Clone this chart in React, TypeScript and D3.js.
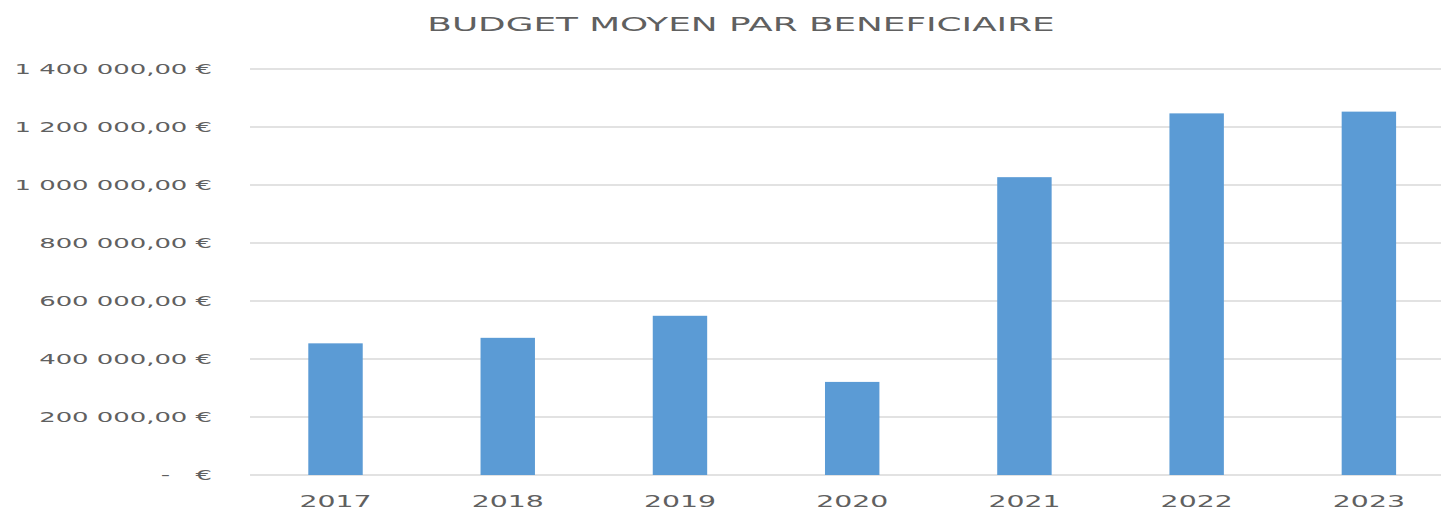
import React from "react";
import * as d3 from "d3";

const categories = ["2017", "2018", "2019", "2020", "2021", "2022", "2023"];
const values = [454000, 473000, 549000, 321000, 1027000, 1247000, 1253000];
const yTicks = [0, 200000, 400000, 600000, 800000, 1000000, 1200000, 1400000];
const title = "BUDGET MOYEN PAR BENEFICIAIRE";

const W = 1441;
const H = 511;
const FONT = "'DejaVu Sans', sans-serif";
const TEXT = "#606060";
const GRID = "#D9D9D9";
const BAR = "#5B9BD5";

function fmt(v: number): string {
  const s = d3.format(",.2f")(v);
  const [i, d] = s.split(".");
  return i.replace(/,/g, " ") + "," + d + " €";
}

export default function App() {
  const x = d3
    .scaleBand<string>()
    .domain(categories)
    .range([249.4, 1455])
    .paddingInner(0.684)
    .paddingOuter(0.342);
  const y = d3.scaleLinear().domain([0, 1400000]).range([475, 69]);

  return (
    <svg
      width={W}
      height={H}
      style={{ position: "absolute", left: 0, top: 0, background: "#fff" }}
    >
      <rect x={0} y={0} width={W} height={H} fill="#fff" />
      <text
        transform={`translate(741,31) scale(1.79,1)`}
        textAnchor="middle"
        fontFamily={FONT}
        fontSize={20}
        fill={TEXT}
      >
        {title}
      </text>
      {yTicks.map((t) => (
        <line key={"g" + t} x1={250} x2={W} y1={y(t)} y2={y(t)} stroke={GRID} strokeWidth={1.5} />
      ))}
      {yTicks.map((t) =>
        t === 0 ? (
          <g key={"l" + t} fontFamily={FONT} fontSize={14} fill={TEXT}>
            <text transform={`translate(170,${y(t)}) scale(1.85,1)`} textAnchor="end" dy="0.35em">
              -
            </text>
            <text transform={`translate(212,${y(t)}) scale(1.85,1)`} textAnchor="end" dy="0.35em">
              €
            </text>
          </g>
        ) : (
          <text
            key={"l" + t}
            transform={`translate(212,${y(t)}) scale(1.85,1)`}
            textAnchor="end"
            dy="0.35em"
            fontFamily={FONT}
            fontSize={14}
            fill={TEXT}
          >
            {fmt(t)}
          </text>
        )
      )}
      {categories.map((c, i) => (
        <rect
          key={"b" + c}
          x={x(c)!}
          y={y(values[i])}
          width={x.bandwidth()}
          height={y(0) - y(values[i])}
          fill={BAR}
        />
      ))}
      {categories.map((c) => (
        <text
          key={"x" + c}
          transform={`translate(${x(c)! + x.bandwidth() / 2},507) scale(1.89,1)`}
          textAnchor="middle"
          fontFamily={FONT}
          fontSize={15}
          fill={TEXT}
        >
          {c}
        </text>
      ))}
    </svg>
  );
}
